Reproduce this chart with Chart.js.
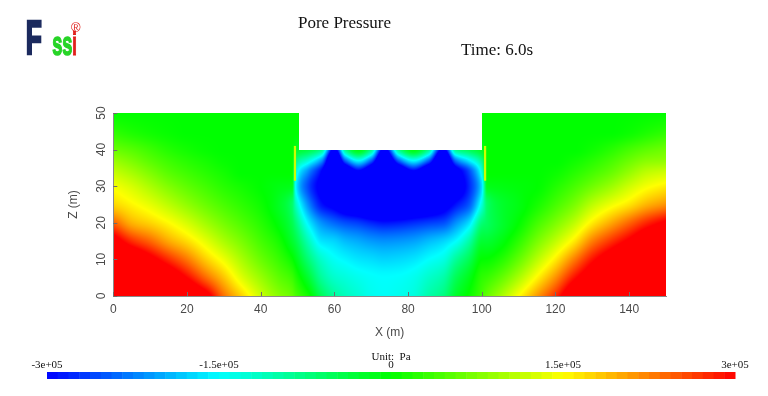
<!DOCTYPE html>
<html lang="en">
<head>
<meta charset="UTF-8">
<title>Pore Pressure</title>
<script src="https://cdn.jsdelivr.net/npm/chart.js@4"></script>
<style>
    html, body { margin: 0; padding: 0; background: #fff; }
    .wrap { position: relative; width: 768px; height: 396px; overflow: hidden; }
    #poreChart { position: absolute; left: 0; top: 0; }
    .serif { position: absolute; font-family: "Liberation Serif", "Times New Roman", serif; color: #111; white-space: nowrap; line-height: 1; }
    .title { font-size: 17px; }
    .cb-label { font-size: 11px; transform: translateX(-50%); }
    #logo { position: absolute; left: 0; top: 0; transform: scaleX(0.55); transform-origin: 0 0;
            font-family: "Liberation Sans", Arial, sans-serif; font-weight: bold; line-height: 1; }
    #logo span { position: absolute; white-space: nowrap; }
    .reg { position: absolute; font-family: "Liberation Sans", Arial, sans-serif; color: #e0201c; font-size: 13px; line-height: 1; }
</style>
</head>
<body>
<div class="wrap">
    <canvas id="poreChart" width="768" height="396"></canvas>

    <div id="logo">
        <span style="left:47px; top:14px; font-size:48px; color:#1b2a5e; -webkit-text-stroke:2.5px #1b2a5e;">F</span>
        <span style="left:95px; top:27px; font-size:33px; color:#27d427; -webkit-text-stroke:1.5px #27d427;">ss</span>
        <span style="left:131px; top:27px; font-size:33px; color:#e0201c; -webkit-text-stroke:1px #e0201c;">i</span>
    </div>
    <div class="reg" style="left:71px; top:21px;">®</div>

    <div class="serif title" style="left:298px; top:14px;">Pore Pressure</div>
    <div class="serif title" style="left:461px; top:41px;">Time: 6.0s</div>

    <div class="serif cb-label" id="unitLabel" style="top:351px;">Unit:&nbsp; Pa</div>
    <div id="cbLabels"></div>
</div>

<script>
    // pore pressure field, in kPa
    // grid stations along X (m); pairs at 48.5/49.5 and 100/101.5 straddle the walls
    const xStations = [0, 5, 10, 15, 20, 25, 30, 35, 40, 45, 48.5, 49.5, 53, 56.5, 60, 63, 66.5, 70, 73.5, 77.5,
                       81.5, 85.5, 89.5, 93, 96.5, 100, 101.5, 105, 110, 115, 120, 125, 130, 135, 140, 145, 150];
    const zLevels = [0, 5, 10, 15, 20, 25, 30, 34, 37, 40, 45, 50];

    const pZ0  = [400, 400, 400, 400, 380, 330, 235, 175, 120, 80, 60, 45, 10, -50, -90, -110, -125, -140, -145, -140,
                  -130, -100, -75, -25, 5, 40, 60, 95, 150, 210, 275, 360, 400, 400, 400, 400, 400];
    const pZ5  = [400, 400, 380, 350, 300, 240, 185, 130, 90, 55, 35, 20, -30, -90, -120, -130, -140, -147, -150, -148,
                  -140, -120, -100, -50, -15, 25, 32, 55, 100, 155, 215, 290, 345, 380, 395, 400, 400];
    const pZ10 = [380, 360, 320, 275, 230, 180, 140, 98, 62, 32, 5, -10, -70, -120, -145, -155, -165, -170, -175, -172,
                  -165, -150, -135, -90, -50, 0, 2, 18, 58, 108, 160, 225, 290, 335, 370, 390, 400];
    const pZ15 = [330, 275, 240, 200, 170, 135, 100, 70, 40, 12, -25, -40, -110, -165, -175, -190, -200, -210, -215, -212,
                  -205, -190, -175, -150, -100, -30, -28, -12, 25, 70, 112, 160, 225, 270, 310, 350, 370];
    const pZ20 = [245, 195, 175, 152, 125, 95, 68, 45, 22, -8, -45, -70, -160, -215, -240, -255, -265, -280, -290, -285,
                  -275, -265, -255, -215, -170, -70, -55, -30, 0, 38, 72, 110, 160, 200, 240, 280, 310];
    const pZ25 = [175, 155, 135, 110, 85, 62, 42, 25, 8, -20, -60, -110, -220, -290, -320, -350, -370, -400, -410, -400,
                  -380, -360, -330, -290, -250, -130, -60, -28, -10, 12, 40, 70, 110, 140, 165, 195, 215];
    const pZ30 = [145, 125, 100, 75, 55, 38, 22, 10, 0, -10, -15, -150, -260, -320, -380, -400, -420, -440, -450, -450,
                  -430, -410, -380, -340, -280, -170, -15, -10, -5, 0, 18, 40, 65, 90, 120, 145, 160];
    const pZ34 = [115, 95, 72, 50, 35, 22, 10, 0, 0, 0, 0, -120, -220, -300, -420, -380, -310, -380, -450, -390,
                  -310, -380, -420, -330, -260, -130, 0, 0, 0, 0, 5, 20, 38, 58, 85, 110, 120];
    const pZ37 = [90, 72, 52, 35, 22, 12, 3, 0, 0, 0, 0, -70, -130, -210, -420, -240, -150, -240, -420, -240,
                  -150, -240, -420, -230, -160, -80, 0, 0, 0, 0, 0, 8, 22, 40, 62, 80, 85];
    const pZ40 = [62, 50, 35, 20, 10, 3, 0, 0, 0, 0, 0, -20, -40, -80, -320, -80, -10, -80, -320, -80,
                  -10, -80, -320, -80, -50, -20, 0, 0, 0, 0, 0, 0, 8, 22, 40, 55, 65];
    const pZ45 = [25, 15, 8, 3, 0, 0, 0, 0, 0, 0, 0, 0, 0, 0, 0, 0, 0, 0, 0, 0,
                  0, 0, 0, 0, 0, 0, 0, 0, 0, 0, 0, 0, 0, 0, 5, 15, 25];
    const pZ50 = [0, 0, 0, 0, 0, 0, 0, 0, 0, 0, 0, 0, 0, 0, 0, 0, 0, 0, 0, 0,
                  0, 0, 0, 0, 0, 0, 0, 0, 0, 0, 0, 0, 0, 0, 0, 0, 0];
    const pressureRows = [pZ0, pZ5, pZ10, pZ15, pZ20, pZ25, pZ30, pZ34, pZ37, pZ40, pZ45, pZ50];

    // excavation pit (empty) and the two diaphragm walls
    const pitX = [50.3, 100.1];
    const pitFloor = 40;
    const wallX = [[49.0, 49.6], [100.6, 101.2]];
    const wallZ = [31.5, 41];
    const wallPressure = 120;

    // colour bar
    const colorMin = -300, colorMax = 300;
    const colorbarLabels = ['-3e+05', '-1.5e+05', '0', '1.5e+05', '3e+05'];
    const colorbarSteps = 64;
    const ramp = [[0, 0, 255], [0, 255, 255], [0, 255, 0], [255, 255, 0], [255, 0, 0]];

    const barLeft = 47, barRight = 735, barTop = 372, barHeight = 7;

    function rampColor(kpa) {
        let t = (kpa - colorMin) / (colorMax - colorMin);
        t = Math.max(0, Math.min(1, t));
        const s = t * 4;
        const k = Math.min(3, Math.floor(s));
        const f = s - k;
        const a = ramp[k], b = ramp[k + 1];
        return [a[0] + (b[0] - a[0]) * f, a[1] + (b[1] - a[1]) * f, a[2] + (b[2] - a[2]) * f];
    }

    function cellIndex(arr, v) {
        let i = 0;
        while (i < arr.length - 2 && v > arr[i + 1]) i++;
        return i;
    }

    // monotone cubic (Fritsch-Butland) so the shading has no kinks at grid lines
    function monoTangents(xs, ys) {
        const n = xs.length, d = [], m = new Array(n);
        for (let k = 0; k < n - 1; k++) d.push((ys[k + 1] - ys[k]) / (xs[k + 1] - xs[k]));
        m[0] = d[0];
        m[n - 1] = d[n - 2];
        for (let k = 1; k < n - 1; k++) {
            if (d[k - 1] * d[k] <= 0) { m[k] = 0; continue; }
            const h0 = xs[k] - xs[k - 1], h1 = xs[k + 1] - xs[k];
            const w1 = 2 * h1 + h0, w2 = h1 + 2 * h0;
            m[k] = (w1 + w2) / (w1 / d[k - 1] + w2 / d[k]);
        }
        return m;
    }

    function hermite(xs, ys, m, v) {
        const i = cellIndex(xs, v);
        const h = xs[i + 1] - xs[i];
        const t = Math.max(0, Math.min(1, (v - xs[i]) / h));
        const t2 = t * t, t3 = t2 * t;
        return (2 * t3 - 3 * t2 + 1) * ys[i] + (t3 - 2 * t2 + t) * h * m[i]
             + (-2 * t3 + 3 * t2) * ys[i + 1] + (t3 - t2) * h * m[i + 1];
    }

    const rowTangents = pressureRows.map(r => monoTangents(xStations, r));

    const fieldPlugin = {
        id: 'poreField',
        beforeDraw(chart) {
            const { ctx, chartArea: area, scales: { x, y } } = chart;
            const left = Math.floor(area.left), top = Math.floor(area.top);
            const w = Math.ceil(area.right) - left, h = Math.ceil(area.bottom) - top;
            const off = document.createElement('canvas');
            off.width = w; off.height = h;
            const octx = off.getContext('2d');
            const img = octx.createImageData(w, h);
            for (let px = 0; px < w; px++) {
                const xv = x.getValueForPixel(left + px + 0.5);
                if (xv < 0 || xv > 150) continue;
                const colVals = pressureRows.map((r, j) => hermite(xStations, r, rowTangents[j], xv));
                const colTan = monoTangents(zLevels, colVals);
                for (let py = 0; py < h; py++) {
                    const zv = y.getValueForPixel(top + py + 0.5);
                    const inPit = xv > pitX[0] && xv < pitX[1] && zv > pitFloor;
                    if (zv < 0 || zv > 50 || inPit) continue;
                    const c = rampColor(hermite(zLevels, colVals, colTan, zv));
                    const k = (py * w + px) * 4;
                    img.data[k] = c[0]; img.data[k + 1] = c[1]; img.data[k + 2] = c[2]; img.data[k + 3] = 255;
                }
            }
            octx.putImageData(img, 0, 0);
            ctx.drawImage(off, left, top);

            // walls
            const wc = rampColor(wallPressure);
            ctx.fillStyle = `rgb(${wc[0]},${wc[1]},${wc[2]})`;
            wallX.forEach(([x0, x1]) => {
                const px0 = x.getPixelForValue(x0), px1 = x.getPixelForValue(x1);
                const py0 = y.getPixelForValue(wallZ[1]), py1 = y.getPixelForValue(wallZ[0]);
                ctx.fillRect(px0, py0, px1 - px0, py1 - py0);
            });
        },
        afterDraw(chart) {
            const { ctx, chartArea: area, scales: { x, y } } = chart;
            // small inward tick marks
            ctx.save();
            ctx.strokeStyle = '#6e6e6e';
            ctx.lineWidth = 1;
            ctx.beginPath();
            x.ticks.forEach(t => {
                const px = Math.round(x.getPixelForValue(t.value)) + 0.5;
                ctx.moveTo(px, area.bottom); ctx.lineTo(px, area.bottom - 4);
            });
            y.ticks.forEach(t => {
                const py = Math.round(y.getPixelForValue(t.value)) + 0.5;
                ctx.moveTo(area.left, py); ctx.lineTo(area.left + 4, py);
            });
            ctx.stroke();

            // colour bar
            const stepW = (barRight - barLeft) / colorbarSteps;
            for (let s = 0; s < colorbarSteps; s++) {
                const v = colorMin + (s + 0.5) / colorbarSteps * (colorMax - colorMin);
                const c = rampColor(v);
                ctx.fillStyle = `rgb(${Math.round(c[0])},${Math.round(c[1])},${Math.round(c[2])})`;
                ctx.fillRect(barLeft + s * stepW, barTop, stepW + 0.5, barHeight);
            }
            ctx.restore();
        }
    };

    const axisFont = { family: '"Liberation Sans", Arial, sans-serif', size: 12 };
    const axisColor = '#4a4a4a';

    new Chart(document.getElementById('poreChart'), {
        type: 'scatter',
        data: { datasets: [] },
        options: {
            responsive: false,
            animation: false,
            events: [],
            layout: { padding: { left: 62, right: 102, top: 113, bottom: 52 } },
            plugins: { legend: { display: false }, tooltip: { enabled: false } },
            scales: {
                x: {
                    type: 'linear', min: 0, max: 150,
                    afterFit(scale) { scale.height = 48; },
                    grid: { display: false, drawTicks: false },
                    border: { display: true, color: '#8a8a8a' },
                    ticks: { stepSize: 20, includeBounds: false, maxRotation: 0, padding: 6, color: axisColor, font: axisFont },
                    title: { display: true, text: 'X (m)', color: axisColor, font: axisFont, padding: { top: 4, bottom: 4 } }
                },
                y: {
                    type: 'linear', min: 0, max: 50,
                    afterFit(scale) { scale.width = 51.3; },
                    grid: { display: false, drawTicks: false },
                    border: { display: true, color: '#8a8a8a' },
                    ticks: { stepSize: 10, includeBounds: false, minRotation: 90, maxRotation: 90, crossAlign: 'center',
                             padding: 5, color: axisColor, font: axisFont },
                    title: { display: true, text: 'Z (m)', color: axisColor, font: axisFont, padding: { top: 4, bottom: 4 } }
                }
            }
        },
        plugins: [fieldPlugin]
    });

    // colour bar tick labels
    const cbBox = document.getElementById('cbLabels');
    colorbarLabels.forEach((txt, i) => {
        const d = document.createElement('div');
        d.className = 'serif cb-label';
        d.textContent = txt;
        d.style.left = (barLeft + i / (colorbarLabels.length - 1) * (barRight - barLeft)) + 'px';
        d.style.top = '359px';
        cbBox.appendChild(d);
    });
    document.getElementById('unitLabel').style.left = ((barLeft + barRight) / 2) + 'px';
</script>
</body>
</html>
